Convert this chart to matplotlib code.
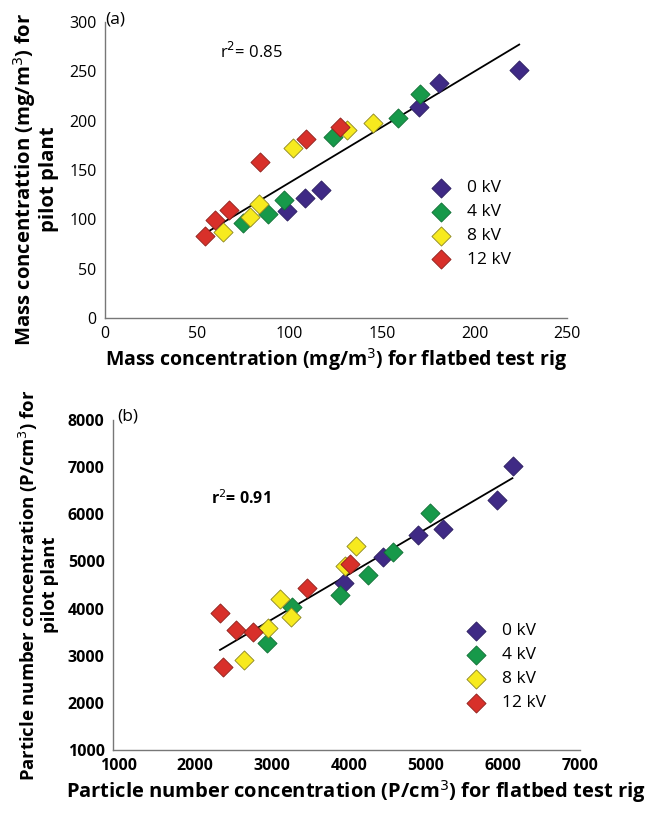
import matplotlib.pyplot as plt

plt.rcParams['font.family'] = ['Open Sans', 'DejaVu Sans']

# ---- (a) mass concentration ----
a_x0 = [224.2, 181.0, 170.2, 117.0, 108.3, 98.7]
a_y0 = [251.9, 238.0, 213.6, 129.8, 121.7, 108.5]
a_x4 = [170.6, 158.8, 123.6, 97.1, 88.1, 74.9]
a_y4 = [227.0, 202.7, 184.0, 119.3, 105.8, 95.9]
a_x8 = [145.0, 131.2, 101.8, 83.2, 78.5, 64.1]
a_y8 = [197.6, 190.2, 172.5, 115.3, 102.7, 87.1]
a_x12 = [127.1, 109.0, 83.9, 67.3, 59.7, 54.3]
a_y12 = [193.9, 182.0, 158.3, 109.2, 99.0, 83.1]
a_fit_x = [54.7, 224.2]
a_fit_y = [86.4, 277.3]

# ---- (b) particle number concentration ----
b_x0 = [6130, 5922, 5222, 4897, 4443, 3933]
b_y0 = [7025, 6304, 5689, 5561, 5102, 4536]
b_x4 = [5049, 4564, 4240, 3881, 3254, 2938]
b_y4 = [6021, 5208, 4713, 4289, 4041, 3277]
b_x8 = [4084, 3946, 3103, 3245, 2951, 2636]
b_y8 = [5328, 4904, 4197, 3829, 3581, 2909]
b_x12 = [4006, 3449, 2324, 2528, 2757, 2359]
b_y12 = [4946, 4430, 3900, 3546, 3496, 2768]
b_fit_x = [2324, 6121]
b_fit_y = [3122, 6764]

labels = ['0 kV', '4 kV', '8 kV', '12 kV']
colors = ['#3f2a85', '#17994a', '#f7ea1e', '#d8302a']
edge = ['#2a1d5e', '#0f6e34', '#8a8420', '#8c1f1a']

fig = plt.figure(figsize=(6.46, 8.15), dpi=100)
ax1 = fig.add_axes([0.1625, 0.6098, 0.715, 0.363])
ax2 = fig.add_axes([0.175, 0.0798, 0.723, 0.405])


def style(ax):
    for s in ['top', 'right']:
        ax.spines[s].set_visible(False)
    for s in ['left', 'bottom']:
        ax.spines[s].set_color('#777777')
        ax.spines[s].set_linewidth(1.0)
    ax.tick_params(length=0, pad=6)


# panel a
sets_a = [(a_x0, a_y0), (a_x4, a_y4), (a_x8, a_y8), (a_x12, a_y12)]
for (xs, ys), c, e, lab in zip(sets_a, colors, edge, labels):
    ax1.scatter(xs, ys, marker='D', s=95, color=c, edgecolors=e,
                linewidths=0.6, label=lab, zorder=3)
ax1.plot(a_fit_x, a_fit_y, color='black', lw=1.3, zorder=2)
ax1.set_xlim(0, 250)
ax1.set_ylim(0, 300)
ax1.set_xticks([0, 50, 100, 150, 200, 250])
ax1.set_yticks([0, 50, 100, 150, 200, 250, 300])
style(ax1)
ax1.tick_params(labelsize=11.5)
ax1.set_xlabel('Mass concentration (mg/m$^3$) for flatbed test rig',
               fontsize=14, fontweight='bold', labelpad=3)
ax1.set_ylabel('Mass concentrattion (mg/m$^3$) for\npilot plant',
               fontsize=14.6, fontweight='bold', linespacing=1.05)
ax1.yaxis.set_label_coords(-0.1, 0.47)
ax1.text(0.0, 1.01, '(a)', transform=ax1.transAxes, fontsize=12.5, va='center')
ax1.text(0.25, 0.88, 'r$^2$= 0.85', transform=ax1.transAxes, fontsize=12)
ax1.legend(loc='upper left', bbox_to_anchor=(0.675, 0.49), frameon=False,
           fontsize=12.5, handletextpad=0.5, labelspacing=0.45,
           borderaxespad=0)

# panel b
sets_b = [(b_x0, b_y0), (b_x4, b_y4), (b_x8, b_y8), (b_x12, b_y12)]
for (xs, ys), c, e, lab in zip(sets_b, colors, edge, labels):
    ax2.scatter(xs, ys, marker='D', s=95, color=c, edgecolors=e,
                linewidths=0.6, label=lab, zorder=3)
ax2.plot(b_fit_x, b_fit_y, color='black', lw=1.3, zorder=2)
ax2.set_xlim(935, 7000)
ax2.set_ylim(1000, 8000)
ax2.set_xticks(range(1000, 8000, 1000))
ax2.set_yticks(range(1000, 9000, 1000))
style(ax2)
ax2.tick_params(labelsize=11.5)
for t in ax2.get_xticklabels() + ax2.get_yticklabels():
    t.set_fontweight('bold')
ax2.set_xlabel('Particle number concentration (P/cm$^3$) for flatbed test rig',
               fontsize=14.5, fontweight='bold')
ax2.xaxis.set_label_coords(0.52, -0.085)
ax2.set_ylabel('Particle number concentration (P/cm$^3$) for\npilot plant',
               fontsize=13.3, fontweight='bold', labelpad=6, linespacing=1.1)
ax2.text(0.01, 1.01, '(b)', transform=ax2.transAxes, fontsize=12.5, va='center')
ax2.text(0.21, 0.745, 'r$^2$= 0.91', transform=ax2.transAxes, fontsize=11.5,
         fontweight='bold')
ax2.legend(loc='upper left', bbox_to_anchor=(0.725, 0.405), frameon=False,
           fontsize=12.5, handletextpad=0.5, labelspacing=0.45,
           borderaxespad=0)

fig.savefig('out.png', dpi=100)
